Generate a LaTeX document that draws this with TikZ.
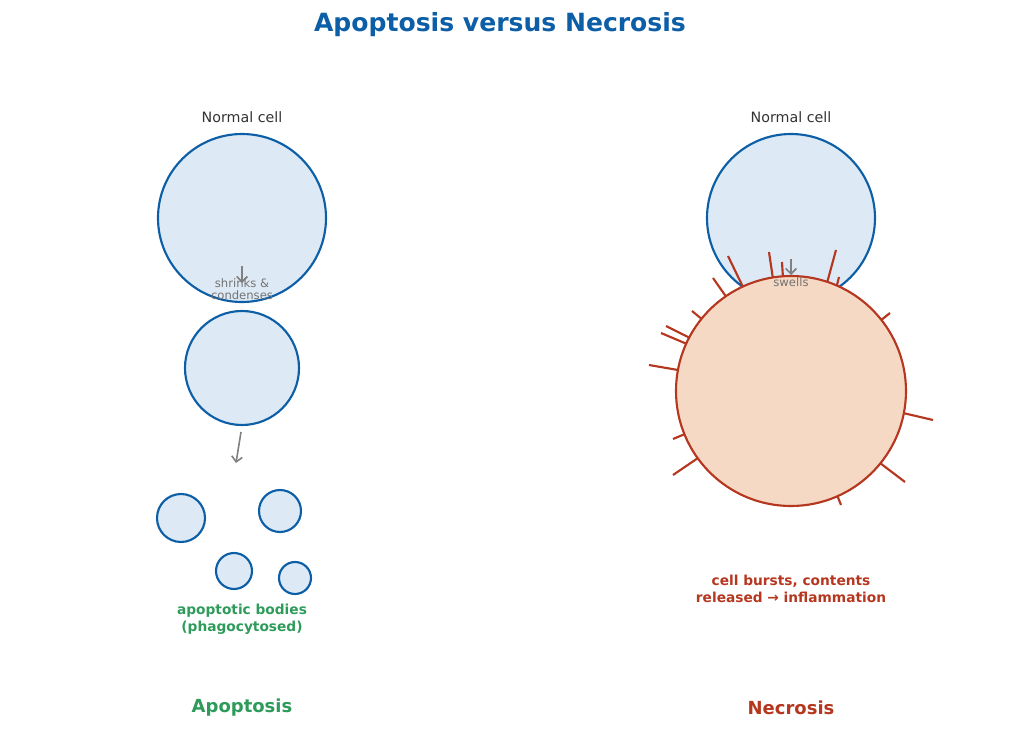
\documentclass[tikz,border=0pt]{standalone}
\usepackage{fontspec}
\setmainfont{DejaVu Sans}
\definecolor{cellblue}{RGB}{12,94,166}
\definecolor{cellfill}{RGB}{221,234,246}
\definecolor{necred}{RGB}{181,55,31}
\definecolor{necfill}{RGB}{245,217,197}
\definecolor{apogreen}{RGB}{46,155,90}
\usetikzlibrary{arrows.meta}
\tikzset{every picture/.style={line width=0.75pt}}
\tikzset{
  cell/.style={draw=cellblue,fill=cellfill,line width=1.6pt},
  burst/.style={draw=necred,fill=necfill,line width=1.6pt},
  spike/.style={draw=necred,line width=1.6pt},
  stagearrow/.style={draw=gray,line width=1.2pt,-{Straight Barb[length=4pt]}},
  note/.style={text=gray!90!black,font=\fontsize{8.7}{10}\selectfont,align=center},
  celllabel/.style={text=black!80,font=\fontsize{10.7}{12}\selectfont}
}
\begin{document}
\begin{tikzpicture}[x=0.75pt,y=0.75pt,yscale=-1,xscale=1]
\useasboundingbox (0,0) rectangle (1033,731);

% Title
\draw (500,25) node [font=\bfseries\fontsize{18.8}{22}\selectfont,text=cellblue] (title) {Apoptosis versus Necrosis};

% Apoptosis column
\draw (242,117) node [celllabel] (lnorm) {Normal cell};
\draw [cell] (242,218) circle (84);
\coordinate (a1) at (242,266);
\coordinate (a2) at (242,283);
\draw [stagearrow] (a1) -- (a2);
\draw (242,289) node [note] (lshrink) {shrinks \&\\[-1pt]condenses};
\draw [cell] (242,368) circle (57);
\coordinate (b1) at (241,432);
\coordinate (b2) at (236,463);
\draw [stagearrow] (b1) -- (b2);
\draw [cell] (181,518) circle (24);
\draw [cell] (280,511) circle (21);
\draw [cell] (234,571) circle (18);
\draw [cell] (295,578) circle (16);
\draw (242,619) node [font=\bfseries\fontsize{10.3}{12.5}\selectfont,text=apogreen,align=center] (lbodies) {apoptotic bodies\\(phagocytosed)};
\draw (242,708) node [font=\bfseries\fontsize{13.5}{15}\selectfont,text=apogreen] (lapo) {Apoptosis};

% Necrosis column
\draw (791,117) node [celllabel] (rnorm) {Normal cell};
\draw [cell] (791,218) circle (84);
\foreach \xa/\ya/\xb/\yb in {728/256/743/287, 769/252/773/279, 782/262/783/278, 836/250/827/283,
  839/277/837/285, 713/278/727/298, 692/311/703/320, 666/326/690/338, 661/333/687/344,
  649/365/678/370, 890/313/880/321, 933/420/903/413, 673/439/685/434, 673/475/698/458,
  905/482/880/463, 841/505/837/495}
  \draw [spike] (\xa,\ya) -- (\xb,\yb);
\draw [burst] (791,391) circle (115);
\coordinate (c1) at (791,259);
\coordinate (c2) at (791,275);
\draw [stagearrow] (c1) -- (c2);
\draw (791,282) node [note] (rswell) {swells};
\draw (791,589) node [font=\bfseries\fontsize{10.3}{12.5}\selectfont,text=necred,align=center] (lburst) {cell bursts, contents\\released → inflammation};
\draw (791,708) node [font=\bfseries\fontsize{13.5}{15}\selectfont,text=necred] (lnec) {Necrosis};

\end{tikzpicture}
\end{document}
